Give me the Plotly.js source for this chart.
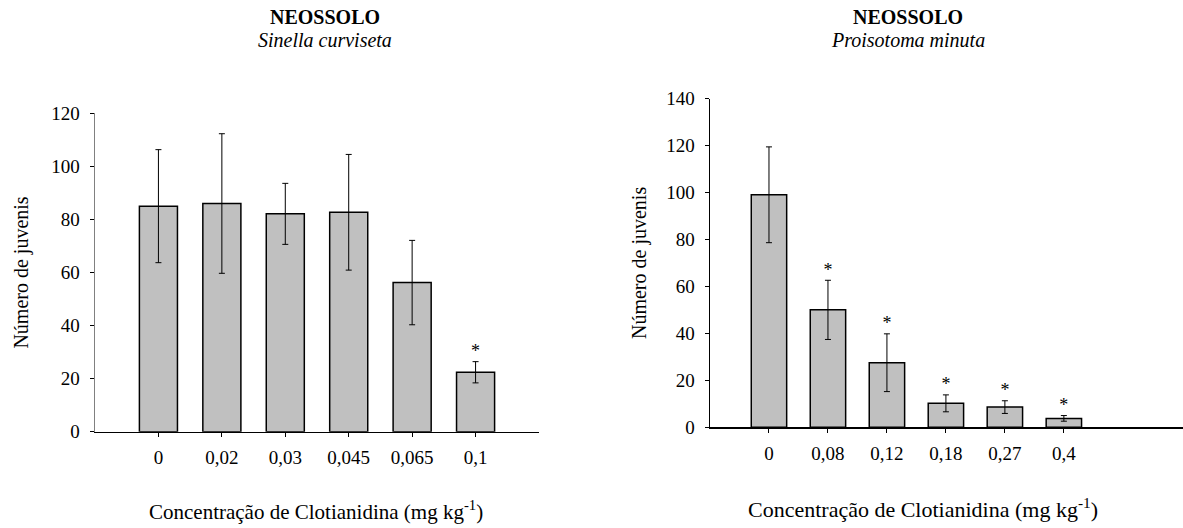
<!DOCTYPE html>
<html>
<head>
<meta charset="utf-8">
<script src="https://cdn.plot.ly/plotly-3.0.1.min.js"></script>
<style>html,body{margin:0;padding:0;background:#fff;}#chart{width:1183px;height:528px;}</style>
</head>
<body>
<div id="chart"></div>
<script>
// Left panel: Sinella curviseta
const leftCategories = ["0", "0,02", "0,03", "0,045", "0,065", "0,1"];
const leftMeans = [85, 86, 82.1, 82.7, 56.2, 22.4];
const leftErrors = [21.3, 26.3, 11.5, 21.8, 15.9, 4.0];
const leftSignificant = [false, false, false, false, false, true];

// Right panel: Proisotoma minuta
const rightCategories = ["0", "0,08", "0,12", "0,18", "0,27", "0,4"];
const rightMeans = [99, 50, 27.5, 10.2, 8.6, 3.8];
const rightErrors = [20.4, 12.6, 12.3, 3.6, 2.7, 1.2];
const rightSignificant = [false, true, true, true, true, true];

const soilName = "NEOSSOLO";
const leftSpecies = "Sinella curviseta";
const rightSpecies = "Proisotoma minuta";
const xTitle = "Concentração de Clotianidina (mg kg<sup>-1</sup>)";
const yTitle = "Número de juvenis";

const FONT = "'Liberation Serif', serif";

function barTrace(cats, vals, errs, xa, ya) {
  return {
    type: "bar", x: cats, y: vals, xaxis: xa, yaxis: ya, width: 0.6,
    marker: {color: "#c0c0c0", line: {color: "#000", width: 1.5}},
    error_y: {type: "data", array: errs, visible: true, color: "#000", thickness: 1, width: 3},
    hoverinfo: "x+y", showlegend: false
  };
}
function starTrace(cats, vals, errs, sig, xa, ya) {
  const xs = [], ys = [];
  cats.forEach((c, i) => { if (sig[i]) { xs.push(c); ys.push(vals[i] + errs[i]); } });
  return {
    type: "scatter", mode: "text", x: xs, y: ys, text: xs.map(() => "*"),
    textposition: "top center", textfont: {family: FONT, size: 18, color: "#000"},
    xaxis: xa, yaxis: ya, showlegend: false, hoverinfo: "skip", cliponaxis: false
  };
}

const data = [
  barTrace(leftCategories, leftMeans, leftErrors, "x", "y"),
  starTrace(leftCategories, leftMeans, leftErrors, leftSignificant, "x", "y"),
  barTrace(rightCategories, rightMeans, rightErrors, "x2", "y2"),
  starTrace(rightCategories, rightMeans, rightErrors, rightSignificant, "x2", "y2")
];

const W = 1183, H = 528;
const common = {
  showgrid: false, zeroline: false, showline: true, linewidth: 1.5,
  ticks: "outside", ticklen: 4, tickwidth: 1, tickcolor: "#000",
  tickfont: {family: FONT, size: 19, color: "#000"}, fixedrange: true
};

function ann(x, y, text, size) {
  return {xref: "paper", yref: "paper", x: x / W, y: 1 - y / H, text: text, showarrow: false,
          font: {family: FONT, size: size, color: "#000"}, xanchor: "center", yanchor: "middle"};
}

const layout = {
  width: W, height: H,
  margin: {l: 0, r: 0, t: 0, b: 0},
  paper_bgcolor: "#fff", plot_bgcolor: "#fff",
  font: {family: FONT, color: "#000"},
  showlegend: false, bargap: 0.4,
  xaxis: Object.assign({}, common, {
    domain: [95 / W, 539 / W], anchor: "y", type: "category", range: [-1, 6],
    linecolor: "#000", ticklabelstandoff: 4
  }),
  yaxis: Object.assign({}, common, {
    domain: [(H - 431.7) / H, (H - 113.3) / H], anchor: "x", range: [0, 120], dtick: 20,
    linecolor: "#808080", ticklabelstandoff: 6,
    title: {text: yTitle, font: {family: FONT, size: 20, color: "#000"}, standoff: 17}
  }),
  xaxis2: Object.assign({}, common, {
    domain: [710 / W, 1], anchor: "y2", type: "category", range: [-1, 7.02],
    linecolor: "#000", ticklabelstandoff: 4
  }),
  yaxis2: Object.assign({}, common, {
    domain: [(H - 427.3) / H, (H - 98.5) / H], anchor: "x2", range: [0, 140], dtick: 20,
    linecolor: "#000", ticklabelstandoff: 6,
    title: {text: yTitle, font: {family: FONT, size: 20, color: "#000"}, standoff: 14}
  }),
  annotations: [
    ann(325, 17, "<b>" + soilName + "</b>", 20),
    ann(325, 40, "<i>" + leftSpecies + "</i>", 20),
    ann(908, 17, "<b>" + soilName + "</b>", 20),
    ann(908, 40, "<i>" + rightSpecies + "</i>", 20),
    ann(316, 510, xTitle, 21),
    ann(923, 508, xTitle, 22)
  ]
};

Plotly.newPlot("chart", data, layout, {displayModeBar: false, staticPlot: true});
</script>
</body>
</html>
